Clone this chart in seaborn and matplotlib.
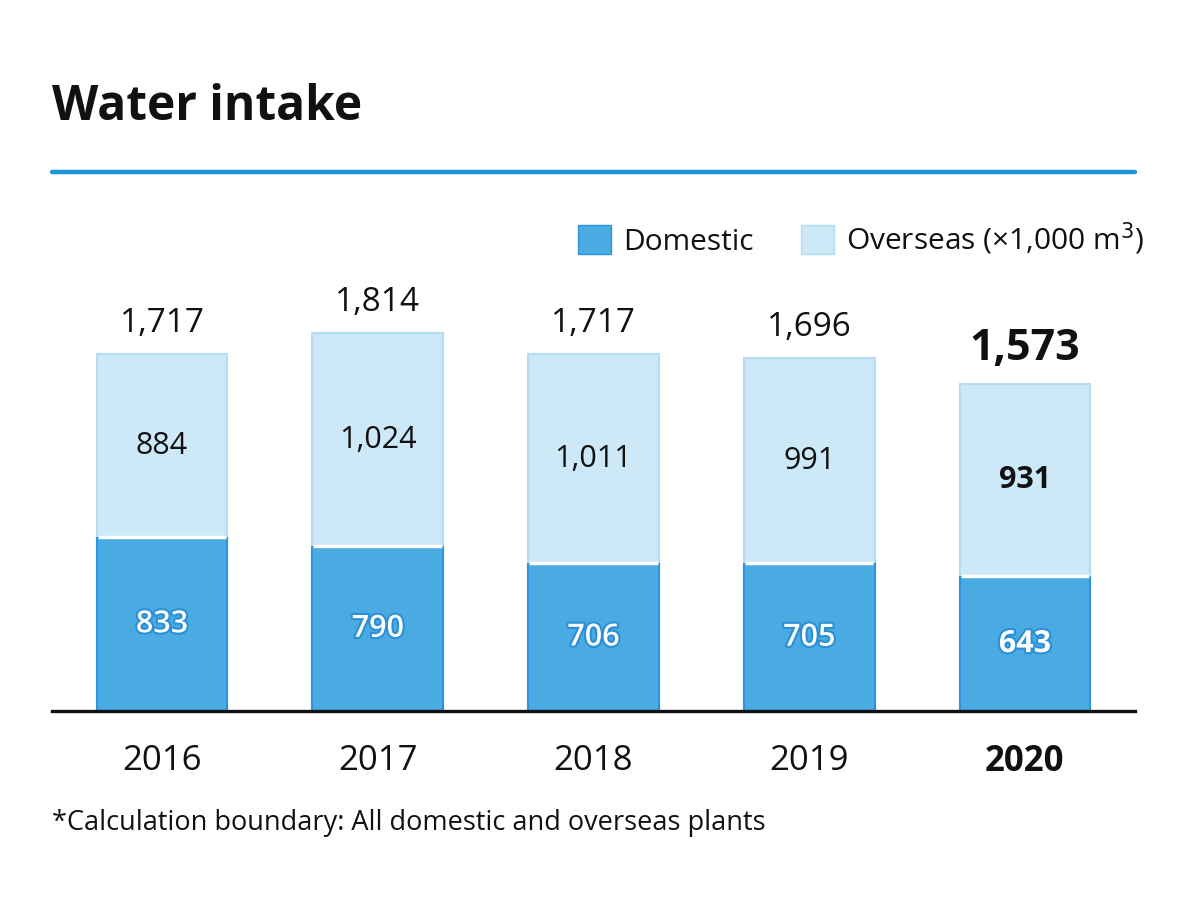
import numpy as np
import pandas as pd
import matplotlib.pyplot as plt
import matplotlib.patheffects as pe
from matplotlib.lines import Line2D
from matplotlib.patches import Patch
import seaborn as sns

# chart data (x1,000 m3)
years = ["2016", "2017", "2018", "2019", "2020"]
domestic = [833, 790, 706, 705, 643]
overseas = [884, 1024, 1011, 991, 931]
totals = [1717, 1814, 1717, 1696, 1573]

dom_color = "#4AABE3"
dom_edge = "#2A95DC"
ovs_color = "#CDE8F7"
ovs_edge = "#B4DCF3"

sns.set_theme(style="white")
plt.rcParams["font.family"] = ["Open Sans", "DejaVu Sans"]

df = pd.DataFrame({"year": years, "domestic": domestic, "overseas": overseas, "total": totals})

fig = plt.figure(figsize=(12, 9.17), dpi=100)
ax = fig.add_axes([0.0433, 0.2246, 0.9025, 0.470])

bar_w = 0.606
# overseas layer drawn as full totals, domestic drawn over it
sns.barplot(data=df, x="year", y="total", color=ovs_color, width=bar_w,
            edgecolor=ovs_edge, linewidth=1.5, saturation=1, ax=ax)
sns.barplot(data=df, x="year", y="domestic", color=dom_color, width=bar_w,
            edgecolor=dom_edge, linewidth=1.5, saturation=1, ax=ax)

xs = np.arange(len(years))
# thin white gap between the two segments
ax.hlines([d + 4 for d in domestic], xs - bar_w / 2 + 0.005, xs + bar_w / 2 - 0.005,
          color="white", lw=2.5, zorder=5)

ax.set_xlim(-0.51, 4.51)
ax.set_ylim(0, 2070)
ax.set_xlabel("")
ax.set_ylabel("")
ax.set_yticks([])
for s in ["top", "left", "right"]:
    ax.spines[s].set_visible(False)
ax.spines["bottom"].set_color("#111111")
ax.spines["bottom"].set_linewidth(2.4)
ax.tick_params(axis="x", length=0, pad=24, labelsize=25, colors="#111111")
ax.set_xticks(xs)
ax.set_xticklabels(years)
ax.get_xticklabels()[-1].set_fontweight("bold")

last = len(years) - 1
for i in xs:
    bold = "bold" if i == last else "normal"
    # totals above bars
    ax.annotate(f"{totals[i]:,}", (i, totals[i]), xytext=(0, 10), textcoords="offset points",
                ha="center", va="bottom", fontsize=31 if i == last else 24,
                fontweight=bold, color="#111111")
    # overseas label
    ax.text(i, domestic[i] + overseas[i] / 2, f"{overseas[i]:,}", ha="center", va="center",
            fontsize=22, fontweight="bold" if i == last else "normal", color="#111111")
    # domestic label
    t = ax.text(i, domestic[i] / 2, f"{domestic[i]:,}", ha="center", va="center",
                fontsize=22, fontweight="semibold" if i < last else "bold", color="white")
    t.set_path_effects([pe.withStroke(linewidth=3, foreground="#2A8FD6")])

# title and rule
fig.text(0.0433, 0.883, "Water intake", fontsize=34.5, fontweight="bold",
         color="#111111", ha="left", va="center")
fig.add_artist(Line2D([0.0433, 0.9458], [0.8125, 0.8125], color="#1E96DC", lw=3.2))

# legend
handles = [Patch(facecolor=dom_color, edgecolor=dom_edge, label="Domestic"),
           Patch(facecolor=ovs_color, edgecolor=ovs_edge, label="Overseas (×1,000 m$^3$)")]
fig.legend(handles=handles, loc="center right", bbox_to_anchor=(0.976, 0.74),
           ncol=2, frameon=False, fontsize=21.5, handlelength=1.1, handleheight=1.1,
           handletextpad=0.4, columnspacing=1.6, labelcolor="#111111")

# footnote
fig.text(0.0433, 0.103, "*Calculation boundary: All domestic and overseas plants",
         fontsize=19.5, color="#111111", ha="left", va="center")

fig.savefig("out.png", dpi=100, facecolor="white")
